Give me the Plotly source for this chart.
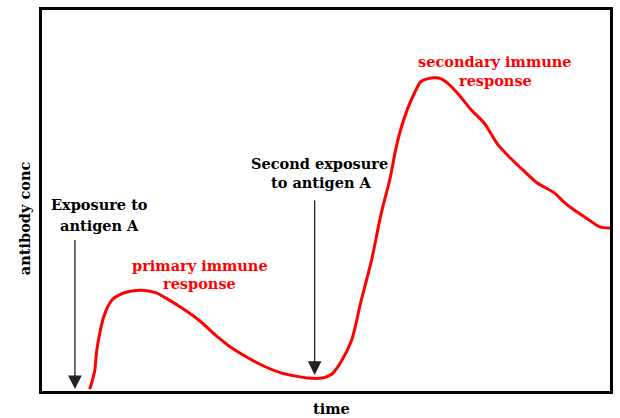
import plotly.graph_objects as go

# Antibody concentration over time (arbitrary units, 0-100 on both axes)
time = [8.4, 8.9, 9.3, 9.6, 10.2, 10.9, 11.6, 12.4, 13.7, 15.4, 18.0, 20.0, 21.9,
        24.7, 27.7, 30.6, 33.5, 36.4, 39.4, 42.2, 44.7, 46.9, 49.2, 51.0, 52.7,
        54.5, 56.2, 58.0, 59.7, 61.3, 62.2, 63.2, 64.4, 65.7, 66.7, 68.0, 69.2,
        70.2, 71.5, 73.2, 75.5, 77.9, 80.2, 82.5, 84.9, 87.2, 90.2, 91.9, 93.7,
        96.0, 98.2, 100.0]
antibody = [0.5, 2.9, 5.5, 10.2, 15.4, 19.6, 22.2, 24.0, 25.3, 26.1, 26.4, 25.8, 24.3,
            21.7, 18.5, 14.6, 11.2, 8.6, 6.3, 4.7, 3.9, 3.4, 3.4, 4.4, 7.8,
            13.3, 23.8, 34.2, 46.5, 55.9, 62.9, 68.9, 74.2, 78.6, 81.2, 82.0, 82.2,
            82.0, 80.7, 78.1, 73.9, 70.2, 64.8, 61.1, 57.7, 54.6, 52.0, 49.6, 47.5,
            45.2, 43.1, 42.8]

# Exposure events: time, arrow tip level and arrow tail level
exposure_times = [5.8, 48.0]
exposure_tips = [0.5, 4.2]
exposure_tails = [40.0, 50.4]

# Label lines: (text, x centre, y centre, colour)
label_lines = [
    ("Exposure to", 10.2, 49.0, "black"),
    ("antigen A", 10.2, 43.5, "black"),
    ("Second exposure", 48.9, 59.7, "black"),
    ("to antigen A", 49.2, 54.6, "black"),
    ("primary immune", 27.8, 32.9, "#ff0000"),
    ("response", 27.8, 28.2, "#ff0000"),
    ("secondary immune", 79.8, 86.4, "#ff0000"),
    ("response", 79.8, 81.5, "#ff0000"),
]

FONT = "DejaVu Serif"
SIZE = 14.5

fig = go.Figure()
fig.add_trace(go.Scatter(x=time, y=antibody, mode="lines",
                         line=dict(color="#ff0000", width=3, shape="spline", smoothing=0.8),
                         hoverinfo="skip"))

annotations = []
for t, tip, tail in zip(exposure_times, exposure_tips, exposure_tails):
    annotations.append(dict(x=t, y=tip, ax=t, ay=tail, xref="x", yref="y",
                            axref="x", ayref="y", text="", showarrow=True,
                            arrowhead=2, arrowsize=2.1, arrowwidth=1.3,
                            arrowcolor="#222222"))
for text, lx, ly, color in label_lines:
    annotations.append(dict(x=lx, y=ly, xref="x", yref="y", text="<b>" + text + "</b>",
                            showarrow=False, font=dict(family=FONT, size=SIZE, color=color)))

annotations.append(dict(x=51.0, y=-0.047, xref="x", yref="paper", text="<b>time</b>",
                        showarrow=False, yanchor="middle",
                        font=dict(family=FONT, size=SIZE, color="black")))
annotations.append(dict(x=-0.0315, y=0.454, xref="paper", yref="paper", text="<b>antibody conc</b>",
                        showarrow=False, textangle=-90, xanchor="center", yanchor="middle",
                        font=dict(family=FONT, size=SIZE, color="black")))

fig.update_layout(
    width=620, height=418,
    margin=dict(l=42, r=7, t=8, b=27),
    paper_bgcolor="white", plot_bgcolor="white",
    showlegend=False,
    annotations=annotations,
    xaxis=dict(range=[0, 100], showgrid=False, zeroline=False, showticklabels=False,
               ticks="", showline=True, mirror=True, linewidth=3, linecolor="black"),
    yaxis=dict(range=[0, 100], showgrid=False, zeroline=False, showticklabels=False,
               ticks="", showline=True, mirror=True, linewidth=3, linecolor="black"),
)

fig.write_html("out.html")
